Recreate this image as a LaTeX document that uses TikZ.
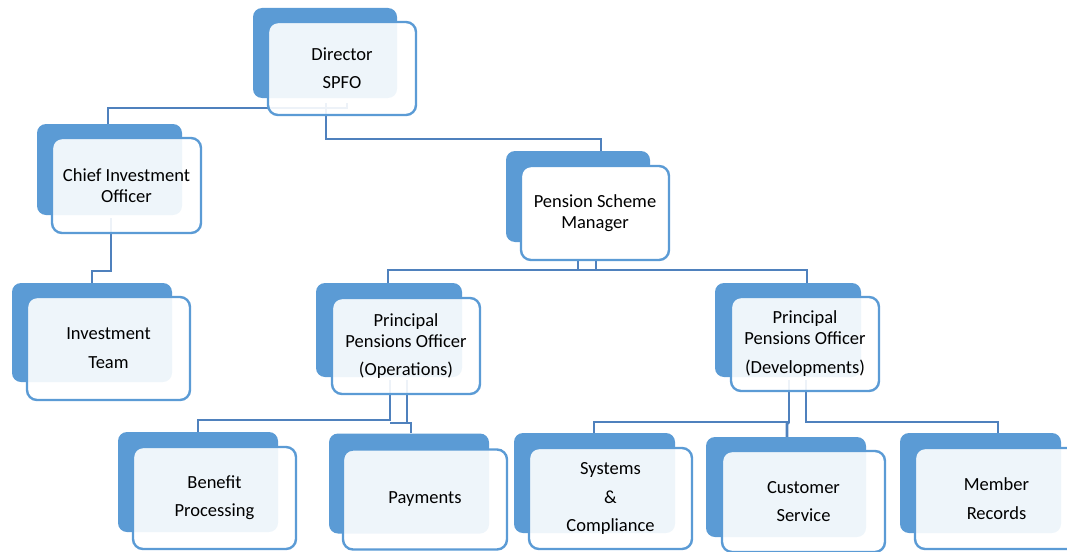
\documentclass[tikz,border=0pt]{standalone}
\usepackage{fontspec}
\setmainfont{Carlito}
\definecolor{boxblue}{RGB}{91,155,213}
\definecolor{lineblue}{RGB}{79,129,189}
\pgfdeclarelayer{background}
\pgfsetlayers{background,main}
\begin{document}
\begin{tikzpicture}[x=1pt,y=-1pt,
  conn/.style={draw=lineblue,line width=2.6pt},
  backbox/.style={fill=boxblue,rounded corners=9pt,inner sep=0pt},
  frontbox/.style={draw=boxblue,line width=2.4pt,fill=white,fill opacity=0.9,text opacity=1,
    rounded corners=10pt,inner sep=0pt,align=center,font=\fontsize{18.5}{20.5}\selectfont},
  opaque/.style={fill opacity=1}]
\useasboundingbox (0,0) rectangle (1067,551);

% Director
\node[backbox,minimum width=144pt,minimum height=90pt] (dirB) at (325,53) {};
\node[frontbox,minimum width=148pt,minimum height=93pt] (dir) at (342,68.5) {Director\\[7.5pt]SPFO};
% Chief Investment Officer
\node[backbox,minimum width=145pt,minimum height=91pt] (cioB) at (109.5,169.5) {};
\node[frontbox,minimum width=149pt,minimum height=95pt] (cio) at (126.5,185.5) {Chief Investment\\Officer};
% Investment Team
\node[backbox,minimum width=160pt,minimum height=99pt] (itB) at (92,332.5) {};
\node[frontbox,minimum width=163pt,minimum height=103pt] (it) at (108.5,348.5) {Investment\\[8.5pt]Team};
% Pension Scheme Manager
\node[backbox,minimum width=144pt,minimum height=91pt] (psmB) at (578,196.5) {};
\node[frontbox,opaque,minimum width=148pt,minimum height=94pt] (psm) at (595,213) {Pension Scheme\\[0.5pt]Manager};
% Principal Pensions Officer (Operations)
\node[backbox,minimum width=146pt,minimum height=94pt] (opsB) at (389,330) {};
\node[frontbox,minimum width=148pt,minimum height=96pt] (ops) at (406,346) {Principal\\[0.5pt]Pensions Officer\\[7.5pt](Operations)};
% Principal Pensions Officer (Developments)
\node[backbox,minimum width=146pt,minimum height=94pt] (devB) at (788,330) {};
\node[frontbox,minimum width=148pt,minimum height=94pt] (dev) at (805,344) {Principal\\[0.5pt]Pensions Officer\\[8.5pt](Developments)};
% Benefit Processing
\node[backbox,minimum width=160pt,minimum height=100pt] (bpB) at (198,482) {};
\node[frontbox,minimum width=163pt,minimum height=102pt] (bp) at (214.5,498) {Benefit\\[7.5pt]Processing};
% Payments
\node[backbox,minimum width=160pt,minimum height=100pt] (payB) at (409,483.5) {};
\node[frontbox,minimum width=164pt,minimum height=100pt] (pay) at (425,499.5) {Payments};
% Systems & Compliance
\node[backbox,minimum width=161pt,minimum height=100pt] (sysB) at (594.5,483) {};
\node[frontbox,minimum width=163pt,minimum height=101pt] (sys) at (610.5,498.5) {Systems\\[8.5pt]\&\\[7.5pt]Compliance};
% Customer Service
\node[backbox,minimum width=160pt,minimum height=100pt] (csB) at (786,487) {};
\node[frontbox,minimum width=163pt,minimum height=101pt] (cs) at (803.5,501.5) {Customer\\[7.5pt]Service};
% Member Records
\node[backbox,minimum width=161pt,minimum height=100pt] (mrB) at (980.5,483) {};
\node[frontbox,minimum width=163pt,minimum height=101pt] (mr) at (996.5,498.5) {Member\\[8.5pt]Records};

\begin{pgfonlayer}{background}
  % Director connectors
  \draw[conn] (347,103) |- (108,108) -- (cioB.north -| 108,0);
  \draw[conn] (326,103) |- (601,139) -- (psmB.north -| 601,0);
  % CIO -> Investment Team
  \draw[conn] (111,218) |- (92,271) -- (itB.north);
  % PSM -> Principal officers
  \draw[conn] (578,250) |- (388,270) -- (opsB.north -| 388,0);
  \draw[conn] (596,250) |- (807,270) -- (devB.north -| 807,0);
  \draw[conn] (578,270) -- (596,270);
  % Operations -> children
  \draw[conn] (390,380) |- (198,420) -- (bpB.north -| 198,0);
  \draw[conn] (407,380) |- (411,423) -- (payB.north -| 411,0);
  \draw[conn] (390,423) -- (407,423);
  % Developments -> children
  \draw[conn] (789,380) |- (594,422) -- (sysB.north -| 594,0);
  \draw[conn] (806,380) |- (998,422) -- (mrB.north -| 998,0);
  \draw[conn] (789,422) -- (787,424) -- (csB.north -| 787,0);
\end{pgfonlayer}
\end{tikzpicture}
\end{document}
